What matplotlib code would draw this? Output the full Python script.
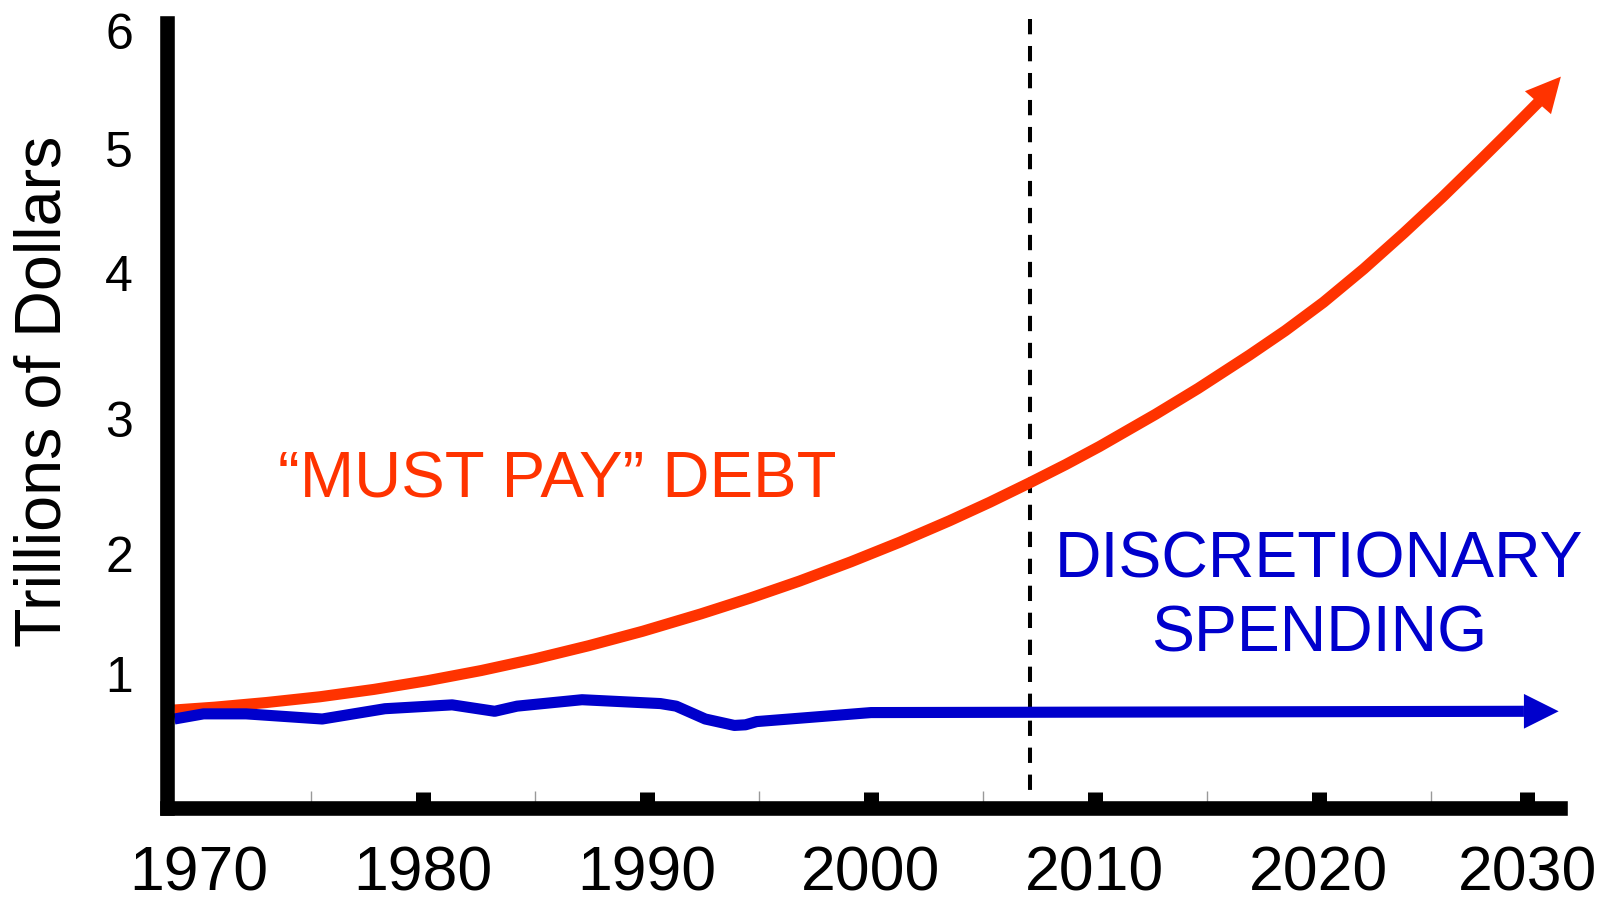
import matplotlib
matplotlib.use('Agg')
import matplotlib.pyplot as plt

plt.rcParams['font.family'] = ['Liberation Sans', 'DejaVu Sans']

# "must pay" debt, trillions of dollars (last point is the arrow tip)
debt_years = [1968.9, 1970.7, 1973.0, 1975.4, 1977.8, 1980.2, 1982.6, 1985.0, 1987.4,
              1989.8, 1992.4, 1994.6, 1996.8, 1999.1, 2001.3, 2003.5, 2005.3, 2007.1,
              2008.7, 2010.2, 2012.7, 2014.6, 2016.9, 2018.5, 2020.2, 2022.0, 2023.8,
              2025.5, 2027.2, 2028.5, 2029.8, 2030.8]
debt_vals = [0.72, 0.742, 0.778, 0.823, 0.880, 0.948, 1.027, 1.118, 1.220,
             1.332, 1.467, 1.590, 1.722, 1.872, 2.026, 2.191, 2.335, 2.488,
             2.629, 2.769, 3.019, 3.22, 3.48, 3.67, 3.89, 4.15, 4.43,
             4.706, 4.995, 5.219, 5.447, 5.645]

# discretionary spending (last point is the arrow tip)
disc_years = [1968.9, 1970.2, 1972.1, 1975.5, 1978.3, 1981.3, 1983.2, 1984.2, 1987.1,
              1990.6, 1991.3, 1992.6, 1993.9, 1994.4, 1994.9, 2000.0, 2029.15, 2030.7]
disc_vals = [0.65, 0.69, 0.69, 0.65, 0.73, 0.76, 0.71, 0.75, 0.80,
             0.77, 0.75, 0.65, 0.60, 0.605, 0.63, 0.70, 0.71, 0.71]

major_years = [1970, 1980, 1990, 2000, 2010, 2020, 2029.3]
major_labels = ['1970', '1980', '1990', '2000', '2010', '2020', '2030']
minor_years = [1975, 1985, 1995, 2005, 2015, 2025]
# the value labels in the original sit slightly unevenly
y_tick_pos = [1.0, 1.93, 2.98, 4.12, 5.08, 6.0]
y_tick_labels = ['1', '2', '3', '4', '5', '6']
today = 2007.1

RED = '#FF3300'
BLUE = '#0000CC'

fig = plt.figure(figsize=(16.14, 9.0), dpi=100)
ax = fig.add_axes([0.10347, 0.10222, 0.86307, 0.87167])
ax.set_xlim(1968.57, 2030.76)
ax.set_ylim(-0.042, 6.058)

for side in ('top', 'right'):
    ax.spines[side].set_visible(False)
for side in ('left', 'bottom'):
    ax.spines[side].set_linewidth(10.5)
    ax.spines[side].set_capstyle('projecting')

# dashed "today" line
ax.plot([today, today], [6.09, 0.08], color='black', lw=2.9, dashes=(3.8, 2.9),
        clip_on=False)

head = '-|>,head_length=1,head_width=0.5'

ax.plot(debt_years[:-1], debt_vals[:-1], color=RED, lw=8, solid_capstyle='butt')
ax.annotate('', xy=(debt_years[-1], debt_vals[-1]), xytext=(debt_years[-2], debt_vals[-2]),
            arrowprops=dict(arrowstyle=head, mutation_scale=25, lw=0, color=RED,
                            shrinkA=0, shrinkB=0),
            annotation_clip=False)

ax.plot(disc_years[:-1], disc_vals[:-1], color=BLUE, lw=8, solid_capstyle='butt')
ax.annotate('', xy=(disc_years[-1], disc_vals[-1]), xytext=(disc_years[-2], disc_vals[-2]),
            arrowprops=dict(arrowstyle=head, mutation_scale=25, lw=0, color=BLUE,
                            shrinkA=0, shrinkB=0),
            annotation_clip=False)

ax.set_xticks(major_years, major_labels)
ax.set_xticks(minor_years, minor=True)
ax.set_yticks(y_tick_pos, y_tick_labels)
ax.tick_params(axis='x', which='major', direction='in', length=11.5, width=10.8,
               color='black', pad=26, labelsize=45)
ax.tick_params(axis='x', which='minor', direction='in', length=12.2, width=1.0,
               color='#999999')
ax.tick_params(axis='y', length=0, pad=24.5, labelsize=36)
ax.xaxis.get_major_ticks()[0].tick1line.set_visible(False)

ax.text(1986.0, 2.37, '\u201cMUST PAY\u201d DEBT', color=RED, fontsize=47,
        ha='center', va='baseline')
ax.text(2020.0, 1.747, 'DISCRETIONARY', color=BLUE, fontsize=46.4,
        ha='center', va='baseline')
ax.text(2020.0, 1.175, 'SPENDING', color=BLUE, fontsize=46.4,
        ha='center', va='baseline')

fig.text(44 / 1614, 1 - 391 / 900, 'Trillions of Dollars', rotation=90, fontsize=46.5,
         ha='center', va='center')

fig.savefig('out.png', dpi=100)
